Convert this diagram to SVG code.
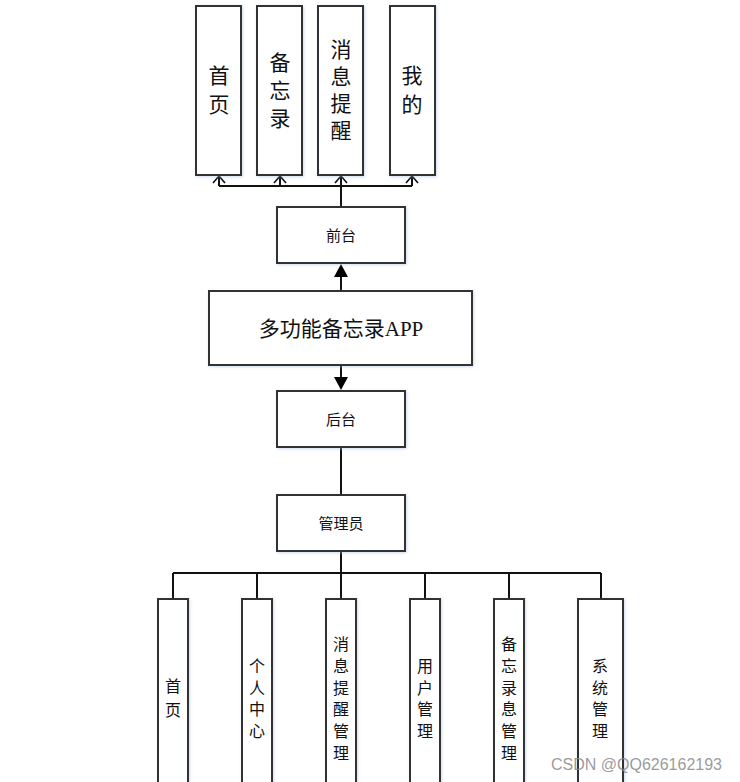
<svg xmlns="http://www.w3.org/2000/svg" width="740" height="782" viewBox="0 0 740 782">
<defs>
<style>
.box{fill:#fff;stroke:#333;stroke-width:2;filter:url(#sh)}
.ln{fill:none;stroke:#111;stroke-width:2}
.hd{fill:none;stroke:#111;stroke-width:1.6}
.t{font-family:"Liberation Serif","Noto Sans CJK SC",serif;fill:#111;text-anchor:middle}
.big{font-size:21px}
.mid{font-size:15px}
.sm{font-size:16px}
</style>
<filter id="sh" x="-20%" y="-20%" width="140%" height="140%">
<feDropShadow dx="1" dy="1" stdDeviation="1.5" flood-color="#9fb8e0" flood-opacity="0.5"/>
</filter>
</defs>
<rect width="740" height="782" fill="#fff"/>

<g id="connectors">
<path class="ln" d="M219,186 H412"/>
<path class="ln" d="M341,207 V186"/>
<path class="ln" d="M219,186 V176 M280,186 V176 M341,186 V176 M412,186 V176"/>
<path class="hd" d="M213,183 L219,176 L225,183 M274,183 L280,176 L286,183 M335,183 L341,176 L347,183 M406,183 L412,176 L418,183"/>
<path class="ln" d="M341,291 V275"/>
<path d="M334,277 L341,264 L348,277 Z" fill="#000"/>
<path class="ln" d="M341,365 V380"/>
<path d="M334,377 L341,390 L348,377 Z" fill="#000"/>
<path class="ln" d="M341,447 V495"/>
<path class="ln" d="M341,551 V573"/>
<path class="ln" d="M173,573 H601"/>
<path class="ln" d="M173,573 V599 M257,573 V599 M341,573 V599 M425,573 V599 M509,573 V599 M601,573 V599"/>
</g>

<g id="top-shouye">
<rect class="box" x="196" y="6" width="45" height="169"/>
<text class="t big"><tspan x="219" y="83">首</tspan><tspan x="219" y="112">页</tspan></text>
</g>
<g id="top-beiwanglu">
<rect class="box" x="257" y="6" width="45" height="169"/>
<text class="t big"><tspan x="280" y="70">备</tspan><tspan x="280" y="98">忘</tspan><tspan x="280" y="126">录</tspan></text>
</g>
<g id="top-xiaoxitixing">
<rect class="box" x="318" y="6" width="45" height="169"/>
<text class="t big"><tspan x="341" y="57">消</tspan><tspan x="341" y="84">息</tspan><tspan x="341" y="111">提</tspan><tspan x="341" y="138">醒</tspan></text>
</g>
<g id="top-wode">
<rect class="box" x="390" y="6" width="45" height="169"/>
<text class="t big"><tspan x="412" y="83">我</tspan><tspan x="412" y="112">的</tspan></text>
</g>

<g id="qiantai">
<rect class="box" x="277" y="207" width="128" height="56"/>
<text class="t mid" x="341" y="241">前台</text>
</g>
<g id="app">
<rect class="box" x="209" y="291" width="263" height="74"/>
<text class="t big" x="341" y="336">多功能备忘录APP</text>
</g>
<g id="houtai">
<rect class="box" x="277" y="391" width="128" height="56"/>
<text class="t mid" x="341" y="425">后台</text>
</g>
<g id="guanliyuan">
<rect class="box" x="277" y="495" width="128" height="56"/>
<text class="t mid" x="341" y="529">管理员</text>
</g>

<g id="b-shouye">
<rect class="box" x="158" y="599" width="30" height="190"/>
<text class="t sm"><tspan x="173" y="692">首</tspan><tspan x="173" y="716">页</tspan></text>
</g>
<g id="b-gerenzhongxin">
<rect class="box" x="242" y="599" width="30" height="190"/>
<text class="t sm"><tspan x="257" y="672">个</tspan><tspan x="257" y="694">人</tspan><tspan x="257" y="715">中</tspan><tspan x="257" y="737">心</tspan></text>
</g>
<g id="b-xiaoxi">
<rect class="box" x="326" y="599" width="30" height="190"/>
<text class="t sm"><tspan x="341" y="650">消</tspan><tspan x="341" y="672">息</tspan><tspan x="341" y="694">提</tspan><tspan x="341" y="715">醒</tspan><tspan x="341" y="737">管</tspan><tspan x="341" y="759">理</tspan></text>
</g>
<g id="b-yonghu">
<rect class="box" x="410" y="599" width="30" height="190"/>
<text class="t sm"><tspan x="425" y="672">用</tspan><tspan x="425" y="694">户</tspan><tspan x="425" y="715">管</tspan><tspan x="425" y="737">理</tspan></text>
</g>
<g id="b-beiwanglu">
<rect class="box" x="494" y="599" width="30" height="190"/>
<text class="t sm"><tspan x="509" y="650">备</tspan><tspan x="509" y="672">忘</tspan><tspan x="509" y="694">录</tspan><tspan x="509" y="715">息</tspan><tspan x="509" y="737">管</tspan><tspan x="509" y="759">理</tspan></text>
</g>
<g id="b-xitong">
<rect class="box" x="578" y="599" width="45" height="190"/>
<text class="t sm"><tspan x="600" y="672">系</tspan><tspan x="600" y="694">统</tspan><tspan x="600" y="715">管</tspan><tspan x="600" y="737">理</tspan></text>
</g>

<text x="551" y="770" font-family="Liberation Sans, Arial, sans-serif" font-size="16" fill="#888" fill-opacity="0.85">CSDN @QQ626162193</text>
</svg>
